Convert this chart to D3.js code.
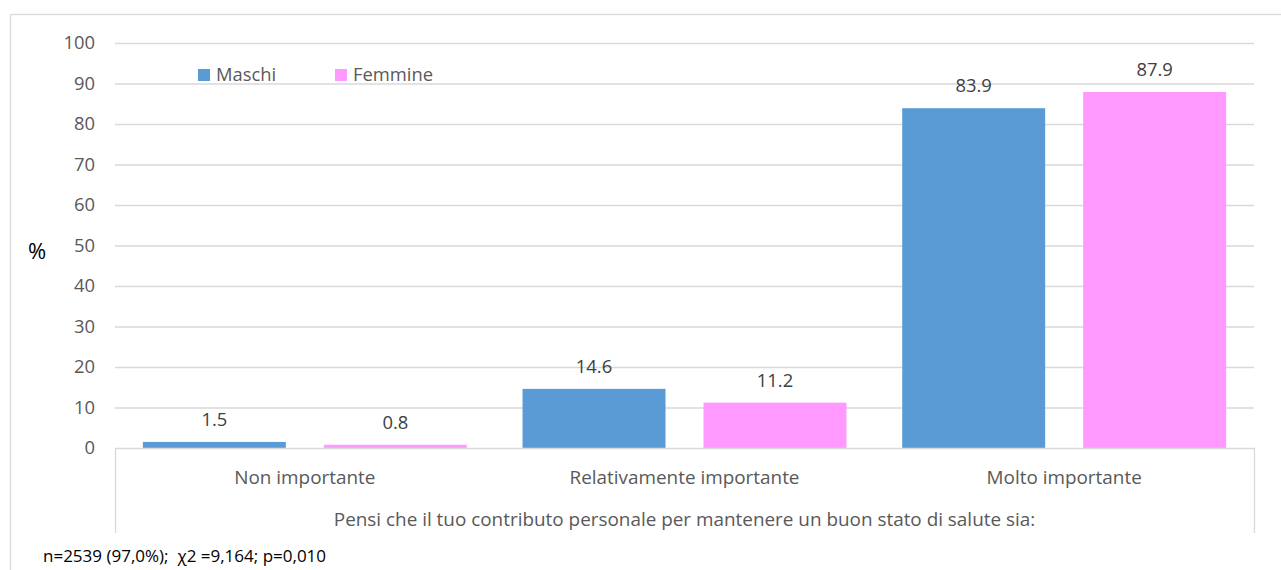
<!DOCTYPE html>
<html>
<head>
<meta charset="utf-8">
<script src="https://cdn.jsdelivr.net/npm/d3@7"></script>
<style>
  html, body { margin: 0; padding: 0; background: #fff; }
  svg { display: block; font-family: "Open Sans", Lato, sans-serif; }
</style>
</head>
<body>
<svg id="chart" width="1281" height="570"></svg>
<script>
// Risposte alla domanda e percentuali per sesso
const categories = ["Non importante", "Relativamente importante", "Molto importante"];
const seriesNames = ["Maschi", "Femmine"];
const maschi = [1.5, 14.6, 83.9];
const femmine = [0.8, 11.2, 87.9];
const yTicks = [0, 10, 20, 30, 40, 50, 60, 70, 80, 90, 100];
const axisTitle = "Pensi che il tuo contributo personale per mantenere un buon stato di salute sia:";
const yLabel = "%";
const footnote = "n=2539 (97,0%);  χ2 =9,164; p=0,010";

const colors = { Maschi: "#5B9BD5", Femmine: "#FF99FF" };
const gridColor = "#D9D9D9";
const fs = "18.4px";
const fsCat = "18.9px";

const svg = d3.select("#chart");

// riquadro esterno del grafico
svg.append("rect")
  .attr("x", 10.5).attr("y", 14.5)
  .attr("width", 1290).attr("height", 600)
  .attr("fill", "#fff").attr("stroke", gridColor).attr("stroke-width", 1.3);

const plot = { left: 115, right: 1254, top: 43, bottom: 448 };

const x = d3.scaleBand().domain(categories).range([plot.left, plot.right]).padding(0);
const xs = d3.scaleBand().domain(seriesNames).range([0, x.bandwidth()])
  .paddingInner(0.21).paddingOuter(0.154);
const y = d3.scaleLinear().domain([0, 100]).range([plot.bottom, plot.top]);

// griglia orizzontale
svg.append("g")
  .selectAll("line")
  .data(yTicks.filter(t => t > 0))
  .join("line")
  .attr("x1", plot.left).attr("x2", plot.right)
  .attr("y1", d => y(d) + 0.5).attr("y2", d => y(d) + 0.5)
  .attr("stroke", gridColor).attr("stroke-width", 1.3);

// asse y
const yAxis = d3.axisLeft(y).tickValues(yTicks).tickSize(0).tickPadding(20);
const gy = svg.append("g").attr("transform", `translate(${plot.left},0)`).call(yAxis);
gy.select(".domain").remove();
gy.selectAll("text")
  .attr("fill", "#595959")
  .style("font-family", "'Open Sans', sans-serif")
  .style("font-size", fs);

// barre
const series = [
  { name: "Maschi", values: maschi },
  { name: "Femmine", values: femmine }
];

const groups = svg.append("g")
  .selectAll("g")
  .data(series)
  .join("g")
  .attr("fill", d => colors[d.name]);

groups.selectAll("rect")
  .data(d => d.values.map((v, i) => ({ name: d.name, cat: categories[i], value: v })))
  .join("rect")
  .attr("x", d => x(d.cat) + xs(d.name))
  .attr("width", xs.bandwidth())
  .attr("y", d => y(d.value))
  .attr("height", d => y(0) - y(d.value));

// etichette dei valori
groups.selectAll("text")
  .data(d => d.values.map((v, i) => ({ name: d.name, cat: categories[i], value: v })))
  .join("text")
  .attr("x", d => x(d.cat) + xs(d.name) + xs.bandwidth() / 2)
  .attr("y", d => y(d.value) - 16)
  .attr("text-anchor", "middle")
  .attr("fill", "#404040")
  .style("font-size", fs)
  .text(d => d3.format(".1f")(d.value));

// asse x con riquadro delle categorie
const gx = svg.append("g");
gx.append("path")
  .attr("d", `M${plot.left + 0.5},533V${plot.bottom + 0.5}H${plot.right + 0.5}V533`)
  .attr("fill", "none").attr("stroke", gridColor).attr("stroke-width", 1.3);

gx.selectAll("text.cat")
  .data(categories)
  .join("text")
  .attr("class", "cat")
  .attr("x", d => x(d) + x.bandwidth() / 2)
  .attr("y", 477)
  .attr("dy", "0.35em")
  .attr("text-anchor", "middle")
  .attr("fill", "#595959")
  .style("font-size", fsCat)
  .text(d => d);

gx.append("text")
  .attr("x", (plot.left + plot.right) / 2)
  .attr("y", 519)
  .attr("dy", "0.35em")
  .attr("text-anchor", "middle")
  .attr("fill", "#595959")
  .style("font-size", fsCat)
  .text(axisTitle);

// titolo asse y
svg.append("text")
  .attr("x", 37).attr("y", 251)
  .attr("dy", "0.35em")
  .attr("text-anchor", "middle")
  .attr("fill", "#000")
  .style("font-size", "22px")
  .text(yLabel);

// legenda
const legend = svg.append("g").attr("transform", "translate(198,69)");
const legendX = d3.scaleOrdinal().domain(seriesNames).range([0, 137]);
const li = legend.selectAll("g")
  .data(seriesNames)
  .join("g")
  .attr("transform", d => `translate(${legendX(d)},0)`);
li.append("rect").attr("width", 12).attr("height", 12).attr("fill", d => colors[d]);
li.append("text")
  .attr("x", 18).attr("y", 6).attr("dy", "0.35em")
  .attr("fill", "#595959")
  .style("font-size", fs)
  .text(d => d);

// nota
svg.append("text")
  .attr("x", 43).attr("y", 556)
  .attr("dy", "0.35em")
  .attr("fill", "#000")
  .style("font-size", "17px")
  .style("white-space", "pre")
  .text(footnote);
</script>
</body>
</html>
